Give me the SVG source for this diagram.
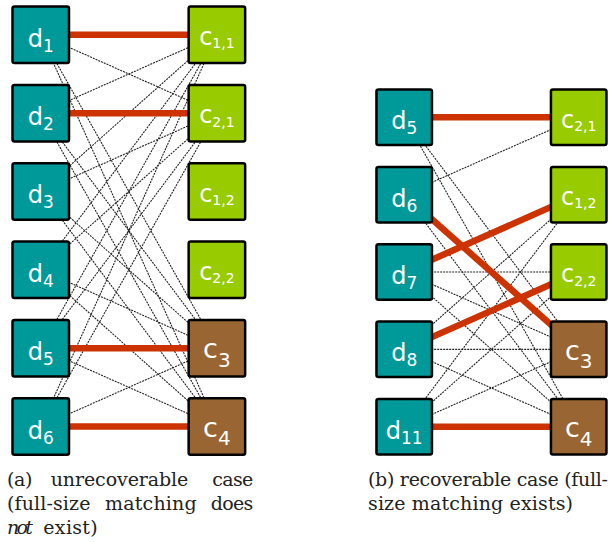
<svg xmlns="http://www.w3.org/2000/svg" width="615" height="542" viewBox="0 0 615 542">
<style>
.dn{fill:#009999;stroke:#000;stroke-width:2.5}
.cg{fill:#99CC00;stroke:#000;stroke-width:2.5}
.cb{fill:#996633;stroke:#000;stroke-width:2.5}
.t{font-family:"DejaVu Sans",sans-serif;fill:#fff;text-anchor:middle}
.dl{font-size:24px}
.ds{font-size:17px}
.cl{font-size:24px}
.cs{font-size:14px}
.bl{font-size:27px}
.bs{font-size:20px}
.dot{stroke:#222;stroke-width:1.1;stroke-dasharray:2 1;fill:none}
.red{stroke:#CC3300;stroke-width:6.5;fill:none}
.cap{font-family:"DejaVu Serif",serif;font-size:19px;fill:#222}
</style>
<g id="connectors">
<g class="dot">
<line x1="40.75" y1="34.8" x2="216.9" y2="113.14"/>
<line x1="40.75" y1="34.8" x2="216.9" y2="348.16"/>
<line x1="40.75" y1="34.8" x2="216.9" y2="426.5"/>
<line x1="40.75" y1="113.14" x2="216.9" y2="34.8"/>
<line x1="40.75" y1="113.14" x2="216.9" y2="348.16"/>
<line x1="40.75" y1="113.14" x2="216.9" y2="426.5"/>
<line x1="40.75" y1="191.48" x2="216.9" y2="34.8"/>
<line x1="40.75" y1="191.48" x2="216.9" y2="113.14"/>
<line x1="40.75" y1="191.48" x2="216.9" y2="348.16"/>
<line x1="40.75" y1="191.48" x2="216.9" y2="426.5"/>
<line x1="40.75" y1="269.82" x2="216.9" y2="34.8"/>
<line x1="40.75" y1="269.82" x2="216.9" y2="113.14"/>
<line x1="40.75" y1="269.82" x2="216.9" y2="348.16"/>
<line x1="40.75" y1="269.82" x2="216.9" y2="426.5"/>
<line x1="40.75" y1="348.16" x2="216.9" y2="34.8"/>
<line x1="40.75" y1="348.16" x2="216.9" y2="113.14"/>
<line x1="40.75" y1="348.16" x2="216.9" y2="426.5"/>
<line x1="40.75" y1="426.5" x2="216.9" y2="34.8"/>
<line x1="40.75" y1="426.5" x2="216.9" y2="113.14"/>
<line x1="40.75" y1="426.5" x2="216.9" y2="348.16"/>
<line x1="404.2" y1="117.3" x2="578.7" y2="349.35"/>
<line x1="404.2" y1="117.3" x2="578.7" y2="426.7"/>
<line x1="404.2" y1="194.65" x2="578.7" y2="117.3"/>
<line x1="404.2" y1="194.65" x2="578.7" y2="426.7"/>
<line x1="404.2" y1="272" x2="578.7" y2="272"/>
<line x1="404.2" y1="272" x2="578.7" y2="349.35"/>
<line x1="404.2" y1="272" x2="578.7" y2="426.7"/>
<line x1="404.2" y1="349.35" x2="578.7" y2="194.65"/>
<line x1="404.2" y1="349.35" x2="578.7" y2="349.35"/>
<line x1="404.2" y1="349.35" x2="578.7" y2="426.7"/>
<line x1="404.2" y1="426.7" x2="578.7" y2="194.65"/>
<line x1="404.2" y1="426.7" x2="578.7" y2="272"/>
<line x1="404.2" y1="426.7" x2="578.7" y2="349.35"/>
</g>
<g class="red">
<line x1="40.75" y1="34.8" x2="216.9" y2="34.8"/>
<line x1="40.75" y1="113.14" x2="216.9" y2="113.14"/>
<line x1="40.75" y1="348.16" x2="216.9" y2="348.16"/>
<line x1="40.75" y1="426.5" x2="216.9" y2="426.5"/>
<line x1="404.2" y1="117.3" x2="578.7" y2="117.3"/>
<line x1="404.2" y1="194.65" x2="578.7" y2="349.35"/>
<line x1="404.2" y1="272" x2="578.7" y2="194.65"/>
<line x1="404.2" y1="349.35" x2="578.7" y2="272"/>
<line x1="404.2" y1="426.7" x2="578.7" y2="426.7"/>
</g>
</g>
<g id="a-d1"><rect class="dn" x="12.5" y="6.55" width="56.5" height="56.5" rx="2"/><text class="t dl" x="40.75" y="46.8">d<tspan class="ds" dy="5">1</tspan></text></g>
<g id="a-d2"><rect class="dn" x="12.5" y="84.89" width="56.5" height="56.5" rx="2"/><text class="t dl" x="40.75" y="125.14">d<tspan class="ds" dy="5">2</tspan></text></g>
<g id="a-d3"><rect class="dn" x="12.5" y="163.23" width="56.5" height="56.5" rx="2"/><text class="t dl" x="40.75" y="203.48">d<tspan class="ds" dy="5">3</tspan></text></g>
<g id="a-d4"><rect class="dn" x="12.5" y="241.57" width="56.5" height="56.5" rx="2"/><text class="t dl" x="40.75" y="281.82">d<tspan class="ds" dy="5">4</tspan></text></g>
<g id="a-d5"><rect class="dn" x="12.5" y="319.91" width="56.5" height="56.5" rx="2"/><text class="t dl" x="40.75" y="360.16">d<tspan class="ds" dy="5">5</tspan></text></g>
<g id="a-d6"><rect class="dn" x="12.5" y="398.25" width="56.5" height="56.5" rx="2"/><text class="t dl" x="40.75" y="438.5">d<tspan class="ds" dy="5">6</tspan></text></g>
<g id="a-c11"><rect class="cg" x="188.65" y="6.55" width="56.5" height="56.5" rx="2"/><text class="t cl" x="216.9" y="45">c<tspan class="cs" dy="3.3">1,1</tspan></text></g>
<g id="a-c21"><rect class="cg" x="188.65" y="84.89" width="56.5" height="56.5" rx="2"/><text class="t cl" x="216.9" y="123.34">c<tspan class="cs" dy="3.3">2,1</tspan></text></g>
<g id="a-c12"><rect class="cg" x="188.65" y="163.23" width="56.5" height="56.5" rx="2"/><text class="t cl" x="216.9" y="201.68">c<tspan class="cs" dy="3.3">1,2</tspan></text></g>
<g id="a-c22"><rect class="cg" x="188.65" y="241.57" width="56.5" height="56.5" rx="2"/><text class="t cl" x="216.9" y="280.02">c<tspan class="cs" dy="3.3">2,2</tspan></text></g>
<g id="a-c3"><rect class="cb" x="188.65" y="319.91" width="56.5" height="56.5" rx="2"/><text class="t bl" x="216.9" y="358.46">c<tspan class="bs" dy="8.5">3</tspan></text></g>
<g id="a-c4"><rect class="cb" x="188.65" y="398.25" width="56.5" height="56.5" rx="2"/><text class="t bl" x="216.9" y="436.8">c<tspan class="bs" dy="8.5">4</tspan></text></g>
<g id="b-d5"><rect class="dn" x="376.45" y="89.55" width="55.5" height="55.5" rx="2"/><text class="t dl" x="404.2" y="129.3">d<tspan class="ds" dy="5">5</tspan></text></g>
<g id="b-d6"><rect class="dn" x="376.45" y="166.9" width="55.5" height="55.5" rx="2"/><text class="t dl" x="404.2" y="206.65">d<tspan class="ds" dy="5">6</tspan></text></g>
<g id="b-d7"><rect class="dn" x="376.45" y="244.25" width="55.5" height="55.5" rx="2"/><text class="t dl" x="404.2" y="284">d<tspan class="ds" dy="5">7</tspan></text></g>
<g id="b-d8"><rect class="dn" x="376.45" y="321.6" width="55.5" height="55.5" rx="2"/><text class="t dl" x="404.2" y="361.35">d<tspan class="ds" dy="5">8</tspan></text></g>
<g id="b-d11"><rect class="dn" x="376.45" y="398.95" width="55.5" height="55.5" rx="2"/><text class="t dl" x="404.2" y="438.7">d<tspan class="ds" dy="5">11</tspan></text></g>
<g id="b-c21"><rect class="cg" x="550.95" y="89.55" width="55.5" height="55.5" rx="2"/><text class="t cl" x="578.7" y="127.5">c<tspan class="cs" dy="3.3">2,1</tspan></text></g>
<g id="b-c12"><rect class="cg" x="550.95" y="166.9" width="55.5" height="55.5" rx="2"/><text class="t cl" x="578.7" y="204.85">c<tspan class="cs" dy="3.3">1,2</tspan></text></g>
<g id="b-c22"><rect class="cg" x="550.95" y="244.25" width="55.5" height="55.5" rx="2"/><text class="t cl" x="578.7" y="282.2">c<tspan class="cs" dy="3.3">2,2</tspan></text></g>
<g id="b-c3"><rect class="cb" x="550.95" y="321.6" width="55.5" height="55.5" rx="2"/><text class="t bl" x="578.7" y="359.65">c<tspan class="bs" dy="8.5">3</tspan></text></g>
<g id="b-c4"><rect class="cb" x="550.95" y="398.95" width="55.5" height="55.5" rx="2"/><text class="t bl" x="578.7" y="437">c<tspan class="bs" dy="8.5">4</tspan></text></g>
<g id="caption-a" class="cap">
<text x="7" y="486" textLength="25.4">(a)</text>
<text x="50.7" y="486" textLength="137.6">unrecoverable</text>
<text x="212.3" y="486" textLength="41">case</text>
<text x="7" y="510" textLength="83.4">(full-size</text>
<text x="105" y="510" textLength="91.7">matching</text>
<text x="210.7" y="510" textLength="42.6">does</text>
<text x="7" y="534" font-style="italic" textLength="26">not</text>
<text x="43.3" y="534" textLength="54.4">exist)</text>
</g>
<g id="caption-b" class="cap">
<text x="368" y="486" textLength="240">(b) recoverable case (full-</text>
<text x="368" y="510" textLength="205">size matching exists)</text>
</g>
</svg>
